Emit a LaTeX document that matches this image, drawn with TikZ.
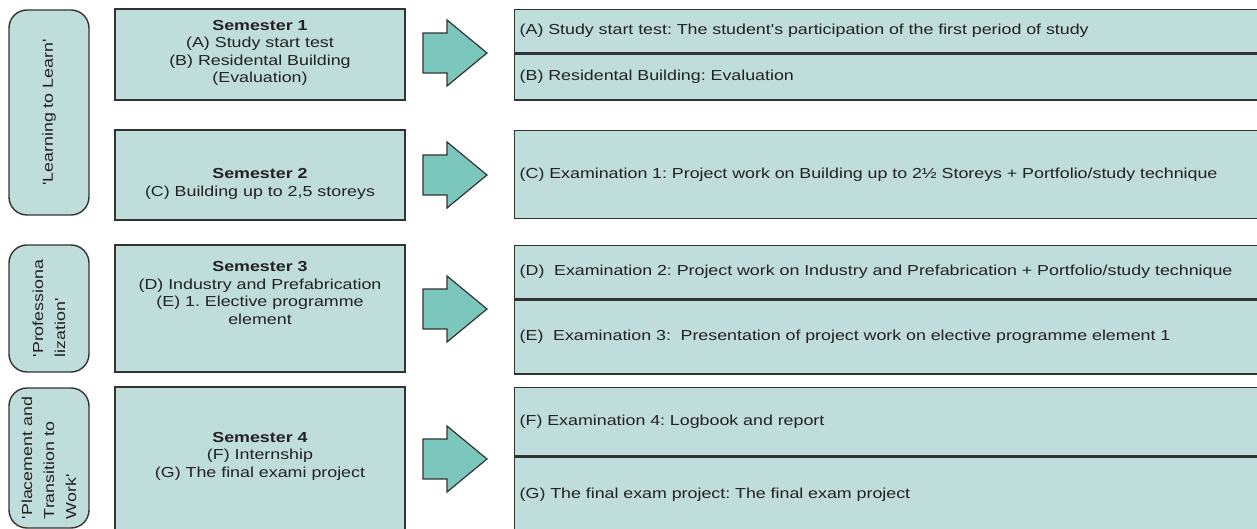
\documentclass[tikz,border=0pt]{standalone}
\usepackage{fontspec}
\setmainfont{Liberation Sans}[Ligatures=TeXOff, FakeStretch=1.23]
\usetikzlibrary{positioning}

\definecolor{boxfill}{HTML}{BFDDDA}
\definecolor{arrowfill}{HTML}{7BC7BE}
\definecolor{edge}{HTML}{333333}
\definecolor{ink}{HTML}{222222}

\tikzset{
	phase/.style={draw=edge, fill=boxfill, line width=1.4pt, rounded corners=18pt, text=ink,
		rotate=90, align=left, inner sep=0pt, font=\fontsize{14.5}{22}\selectfont},
	semester/.style={draw=edge, fill=boxfill, line width=1.4pt, minimum width=290},
	semtext/.style={align=center, inner sep=0pt, text=ink, font=\fontsize{14.5}{17.5}\selectfont},
	row/.style={draw=edge, fill=boxfill, line width=1.4pt, minimum width=760, text=ink,
		text width=750, align=left, inner xsep=5pt, font=\fontsize{14.5}{17}\selectfont},
	blockarrow/.style={draw=edge, fill=arrowfill, line width=1.2pt, line join=miter}
}

% block arrow, starting at the middle of its left end
\newcommand{\semarrow}[1]{%
	\draw[blockarrow] (#1) ++(0,-20) -- ++(24,0) -- ++(0,-13) -- ++(40,33)
		-- ++(-40,33) -- ++(0,-13) -- ++(-24,0) -- cycle;}

\begin{document}
\frenchspacing
\begin{tikzpicture}[x=1pt, y=-1pt]

\useasboundingbox (0,0) rectangle (1257,529);
\clip (0,0) rectangle (1257,529);

% phases
\node[phase, minimum width=205, minimum height=80] (learn) at (49,112.5) {'Learning to Learn'};
\node[phase, minimum width=127, minimum height=80] (profession) at (49,308.5) {'Professiona\\lization'};
\node[phase, minimum width=140, minimum height=80] (placement) at (49,458) {'Placement and\\Transition to\\Work'};

% semesters
\node[semester, minimum height=91] (sem1) at (260,54.5) {};
\node[semester, minimum height=90] (sem2) at (260,175) {};
\node[semester, minimum height=127] (sem3) at (260,308.5) {};
\node[semester, minimum height=148] (sem4) at (260,461) {};

\node[semtext] (sem1txt) at (260,53) {\textbf{Semester 1}\\(A) Study start test\\(B) Residental Building\\(Evaluation)};
\node[semtext] (sem2txt) at (260,184) {\textbf{Semester 2}\\(C) Building up to 2,5 storeys};
\node[semtext] (sem3txt) at (260,293) {\textbf{Semester 3}\\(D) Industry and Prefabrication\\(E) 1. Elective programme\\element};
\node[semtext] (sem4txt) at (260,456) {\textbf{Semester 4}\\(F) Internship\\(G) The final exami project};

% arrows
\semarrow{423,53}
\semarrow{423,175}
\semarrow{423,309}
\semarrow{423,459}

% results
\node[row, anchor=north west, minimum height=43] (resA) at (514,9) {(A) Study start test: The student's participation of the first period of study};
\node[row, below=0pt of resA, minimum height=46] (resB) {(B) Residental Building: Evaluation};
\node[row, anchor=north west, minimum height=88] (resC) at (514,130) {(C) Examination 1: Project work on Building up to 2½ Storeys + Portfolio/study technique};
\node[row, anchor=north west, minimum height=53] (resD) at (514,245) {(D)\ \ Examination 2: Project work on Industry and Prefabrication + Portfolio/study technique};
\node[row, below=0pt of resD, minimum height=74] (resE) {(E)\ \ Examination 3:\ \ Presentation of project work on elective programme element 1};
\node[row, anchor=north west, minimum height=68] (resF) at (514,387) {(F) Examination 4: Logbook and report};
\node[row, below=0pt of resF, minimum height=76] (resG) {(G) The final exam project: The final exam project};

\end{tikzpicture}
\end{document}
